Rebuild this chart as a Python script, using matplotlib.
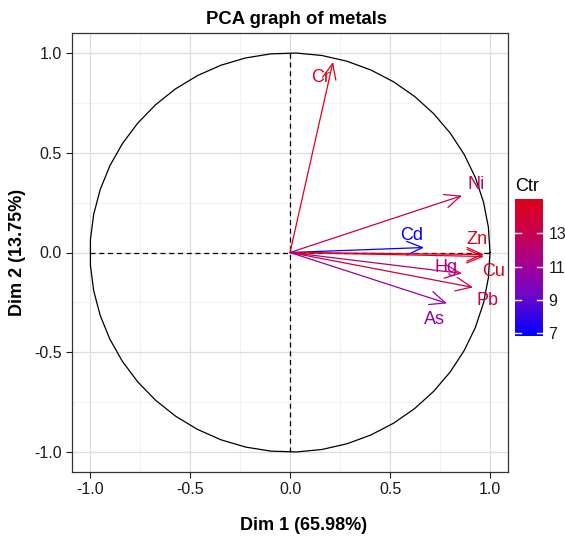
import numpy as np
import matplotlib
matplotlib.use("Agg")
import matplotlib.pyplot as plt
from matplotlib.colors import LinearSegmentedColormap, Normalize
from matplotlib.patches import FancyArrowPatch

plt.rcParams['font.family'] = ['Liberation Sans', 'DejaVu Sans']

# variable coordinates on Dim 1 / Dim 2
variables = ['Cr', 'Ni', 'Cd', 'Zn', 'Cu', 'Hg', 'Pb', 'As']
dim1 = [0.215, 0.86, 0.67, 0.97, 0.97, 0.86, 0.915, 0.785]
dim2 = [0.955, 0.285, 0.025, -0.01, -0.02, -0.105, -0.175, -0.255]
# contribution (Ctr) used for colour
ctr = [15.05, 12.9, 6.85, 14.8, 14.8, 11.8, 13.6, 10.7]
# label offsets from arrow tips (repelled labels)
label_dx = [-0.06, 0.07, -0.06, -0.035, 0.05, -0.08, 0.07, -0.065]
label_dy = [-0.08, 0.055, 0.06, 0.075, -0.075, 0.03, -0.065, -0.08]
ctr_ticks = [7, 9, 11, 13]

title = 'PCA graph of metals'
xlabel = 'Dim 1 (65.98%)'
ylabel = 'Dim 2 (13.75%)'

cmap = LinearSegmentedColormap.from_list(
    'ctr', [(0.0, '#0000FF'), (0.3, '#7008C8'), (0.5, '#A0009C'),
            (0.75, '#C80050'), (1.0, '#E00018')])
norm = Normalize(vmin=min(ctr), vmax=max(ctr))

W, H = 565, 537
fig = plt.figure(figsize=(W / 100, H / 100), dpi=100)
ax = fig.add_axes([72 / W, (H - 472) / H, (508 - 72) / W, (472 - 33) / H])

ax.set_xlim(-1.09, 1.09)
ax.set_ylim(-1.1, 1.1)

# grid
for v in [-0.75, -0.25, 0.25, 0.75]:
    ax.axvline(v, color='#f2f2f2', lw=0.8, zorder=0)
    ax.axhline(v, color='#f2f2f2', lw=0.8, zorder=0)
for v in [-1.0, -0.5, 0.0, 0.5, 1.0]:
    ax.axvline(v, color='#dddddd', lw=0.9, zorder=0)
    ax.axhline(v, color='#dddddd', lw=0.9, zorder=0)

# correlation circle
t = np.linspace(0, 2 * np.pi, 50)
ax.plot(np.cos(t), np.sin(t), color='black', lw=0.9, zorder=1)
ax.plot([0, 0], [-1, 1], color='black', lw=0.9, ls=(0, (4, 3)), zorder=1)
ax.plot([-1, 1], [0, 0], color='black', lw=0.9, ls=(0, (4, 3)), zorder=1)

for name, x, y, c, dx, dy in zip(variables, dim1, dim2, ctr, label_dx, label_dy):
    col = cmap(norm(c))
    arr = FancyArrowPatch((0, 0), (x, y), arrowstyle='->,head_length=0.8,head_width=0.35',
                          mutation_scale=14, color=col, lw=0.9, shrinkA=0, shrinkB=0,
                          zorder=2)
    ax.add_patch(arr)
    ax.text(x + dx, y + dy, name, color=col, fontsize=13, ha='center', va='center',
            zorder=3)

ax.set_xticks([-1.0, -0.5, 0.0, 0.5, 1.0])
ax.set_yticks([-1.0, -0.5, 0.0, 0.5, 1.0])
ax.set_xticklabels(['-1.0', '-0.5', '0.0', '0.5', '1.0'])
ax.set_yticklabels(['-1.0', '-0.5', '0.0', '0.5', '1.0'])
ax.tick_params(labelsize=11.5, colors='#1a1a1a', length=4, width=0.8)
for s in ax.spines.values():
    s.set_linewidth(0.9)
    s.set_color('#333333')

ax.set_xlabel(xlabel, fontsize=13, fontweight='bold', va='center')
ax.xaxis.set_label_coords(0.53, -0.121)
ax.set_ylabel(ylabel, fontsize=13, fontweight='bold', va='center')
ax.yaxis.set_label_coords(-0.124, 0.5)
ax.text(0.516, 1.0 + 14 / 439, title, transform=ax.transAxes, fontsize=13.3,
        fontweight='bold', ha='center', va='center')

# colour bar
cax = fig.add_axes([515 / W, (H - 336) / H, 28 / W, (336 - 199) / H])
grad = np.linspace(min(ctr), max(ctr), 200).reshape(-1, 1)
cax.imshow(grad, aspect='auto', cmap=cmap, norm=norm, origin='lower',
           extent=[0, 1, min(ctr), max(ctr)])
cax.set_xlim(0, 1)
cax.set_ylim(min(ctr), max(ctr))
for tv in ctr_ticks:
    cax.plot([0, 0.2], [tv, tv], color='white', lw=1)
    cax.plot([0.8, 1], [tv, tv], color='white', lw=1)
cax.set_xticks([])
cax.set_yticks(ctr_ticks)
cax.yaxis.tick_right()
cax.tick_params(axis='y', length=0, labelsize=11.5, colors='#1a1a1a', pad=4)
for s in cax.spines.values():
    s.set_visible(False)
cax.set_title('Ctr', fontsize=13, loc='left', pad=6)

fig.savefig('out.png', dpi=100)
